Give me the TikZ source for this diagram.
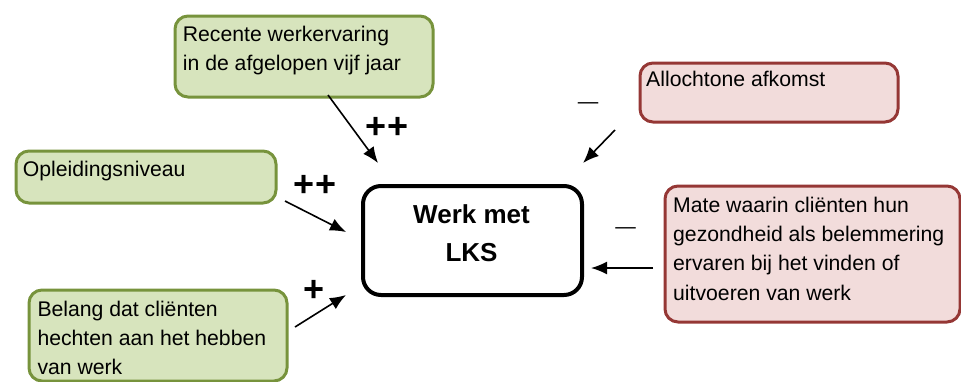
\documentclass[tikz,border=0pt]{standalone}
\usepackage{fontspec}
\setmainfont{Liberation Sans}
\usetikzlibrary{arrows.meta}
\definecolor{gfill}{HTML}{D7E4BD}
\definecolor{gline}{HTML}{77933C}
\definecolor{rfill}{HTML}{F2DCDB}
\definecolor{rline}{HTML}{953735}
\tikzset{
  gbox/.style={rectangle, draw=gline, fill=gfill, line width=3pt, rounded corners=13pt, anchor=north west, inner sep=0pt},
  rbox/.style={rectangle, draw=rline, fill=rfill, line width=3pt, rounded corners=13pt, anchor=north west, inner sep=0pt},
  mainbox/.style={rectangle, draw=black, line width=4pt, rounded corners=18pt, anchor=north west, inner sep=0pt},
  txt/.style={inner sep=0pt, align=left, anchor=base west, font=\fontsize{21.2pt}{29.1pt}\selectfont},
  maintxt/.style={inner sep=0pt, align=center, anchor=base, font=\bfseries\fontsize{26pt}{37.7pt}\selectfont},
  sign/.style={inner sep=0pt, font=\bfseries\fontsize{36pt}{40pt}\selectfont},
  dashsign/.style={inner sep=0pt, font=\fontsize{20.5pt}{24pt}\selectfont},
  arr/.style={-{Latex[length=16pt,width=13pt]}, line width=1.6pt, black}
}
\begin{document}
\begin{tikzpicture}[x=1pt,y=-1pt]
\useasboundingbox (0,0) rectangle (961,381);
% boxes
\node[gbox, minimum width=258pt, minimum height=81pt] (rec) at (173.5,14.5) {};
\node[gbox, minimum width=260pt, minimum height=52pt] (opl) at (14.5,149.5) {};
\node[gbox, minimum width=258pt, minimum height=91pt] (bel) at (27.5,288.5) {};
\node[rbox, minimum width=258pt, minimum height=59pt] (allo) at (638.5,61.5) {};
\node[rbox, minimum width=295pt, minimum height=136pt] (mate) at (663.5,184.5) {};
\node[mainbox, minimum width=219pt, minimum height=109pt] (main) at (361,184) {};
% texts (anchored at the baseline of the last line)
\node[txt] (trec) at (182.7,70.8) {Recente werkervaring\\in de afgelopen vijf jaar};
\node[txt] (topl) at (22.7,176.7) {Opleidingsniveau};
\node[txt] (tbel) at (37.3,374.5) {Belang dat cliënten\\hechten aan het hebben\\van werk};
\node[txt] (tallo) at (646,86) {Allochtone afkomst};
\node[txt] (tmate) at (673,300) {Mate waarin cliënten hun\\gezondheid als belemmering\\ervaren bij het vinden of\\uitvoeren van werk};
\node[maintxt] (tmain) at (471.5,261) {Werk met\\LKS};
% signs
\node[sign] (p1) at (387,127.5) {++};
\node[sign] (p2) at (315,186) {++};
\node[sign] (p3) at (314,291) {+};
\node[dashsign] (m1) at (588,106) {—};
\node[dashsign] (m2) at (625.7,231) {—};
% arrow ends
\coordinate (s1) at (328,95);
\coordinate (e1) at (378,163);
\coordinate (s2) at (285,201);
\coordinate (e2) at (346,232);
\coordinate (s3) at (295,327);
\coordinate (e3) at (346,295);
\coordinate (s4) at (615,130);
\coordinate (e4) at (583,163);
\coordinate (s5) at (653,268);
\coordinate (e5) at (591,268);
\draw[arr] (s1) -- (e1);
\draw[arr] (s2) -- (e2);
\draw[arr] (s3) -- (e3);
\draw[arr] (s4) -- (e4);
\draw[arr] (s5) -- (e5);
\end{tikzpicture}
\end{document}
